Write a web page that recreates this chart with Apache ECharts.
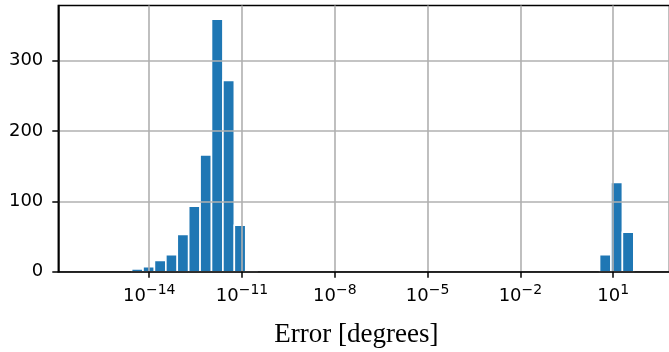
<!DOCTYPE html>
<html>
<head>
<meta charset="utf-8">
<script src="https://cdn.jsdelivr.net/npm/echarts@6/dist/echarts.min.js"></script>
<style>
  html, body { margin: 0; padding: 0; background: #fff; }
  #chart { width: 669px; height: 352px; }
</style>
</head>
<body>
<div id="chart"></div>
<script>
// histogram of errors, x in log10(degrees)
const binStart = -14.57;   // log10 of first bin edge
const binWidth = 0.369;    // bin width in decades
const counts = [
  4, 7, 16, 24, 53, 93, 166, 359, 272, 66, 2,
  0, 0, 0, 0, 0, 0, 0, 0, 0, 0,
  0, 0, 0, 0, 0, 0, 0, 0, 0, 0,
  0, 0, 0, 0, 0, 0, 0, 0, 0, 0,
  24, 127, 56
];
const xTicks = [-14, -11, -8, -5, -2, 1];
const yTicks = [0, 100, 200, 300];

// bins -> [lo, hi, count]
const bins = [];
counts.forEach(function (c, i) {
  if (c > 0) bins.push([binStart + i * binWidth, binStart + (i + 1) * binWidth, c]);
});

let chart = echarts.init(document.getElementById('chart'), null, { renderer: 'canvas' });

const gridColor = '#b0b0b0';

const option = {
  animation: false,
  grid: {
    left: 58.3, top: 5.5, right: -0.5, bottom: 80.3,
    outerBoundsMode: 'none',
    show: true, borderColor: '#000', borderWidth: 1.5, backgroundColor: 'transparent'
  },
  xAxis: {
    type: 'value',
    min: -16.94,
    max: 2.82,
    z: 3,
    name: 'Error [degrees]',
    nameLocation: 'middle',
    nameGap: 50,
    nameTextStyle: {
      fontFamily: 'Liberation Serif', fontSize: 27, color: '#000',
      padding: [0, 15, 0, 0]
    },
    axisLine: { onZero: false, lineStyle: { color: '#000', width: 1.5 } },
    axisTick: { customValues: xTicks, length: 6, lineStyle: { color: '#000', width: 1.5 } },
    axisLabel: {
      customValues: xTicks,
      margin: 12,
      formatter: function (v) {
        const exp = v < 0 ? '\u2212' + Math.abs(v) : String(v);
        return '{b|10}{s|' + exp + '}';
      },
      rich: {
        b: { fontFamily: 'DejaVu Sans', fontSize: 18, lineHeight: 22, verticalAlign: 'bottom', color: '#000' },
        s: { fontFamily: 'DejaVu Sans', fontSize: 14, lineHeight: 10, verticalAlign: 'top', color: '#000' }
      }
    },
    splitLine: { show: true, lineStyle: { color: gridColor, width: 1.6 } }
  },
  yAxis: {
    type: 'value',
    min: 0,
    max: 378.5,
    interval: 100,
    z: 3,
    axisLine: { show: true, onZero: false, lineStyle: { color: '#000', width: 1.5 } },
    axisTick: { show: true, customValues: yTicks, length: 6, lineStyle: { color: '#000', width: 1.5 } },
    axisLabel: {
      customValues: yTicks,
      margin: 15,
      fontFamily: 'DejaVu Sans', fontSize: 18, color: '#000'
    },
    splitLine: { show: true, lineStyle: { color: gridColor, width: 1.6 } }
  },
  series: [{
    type: 'custom',
    z: 2,
    data: bins,
    encode: { x: [0, 1], y: 2 },
    renderItem: function (params, api) {
      const p0 = api.coord([api.value(0), 0]);
      const p1 = api.coord([api.value(1), api.value(2)]);
      return {
        type: 'rect',
        shape: { x: p0[0], y: p1[1], width: p1[0] - p0[0], height: p0[1] - p1[1] },
        style: { fill: '#1f77b4', stroke: '#fff', lineWidth: 1.6 }
      };
    }
  }]
};

chart.setOption(option);
</script>
</body>
</html>
